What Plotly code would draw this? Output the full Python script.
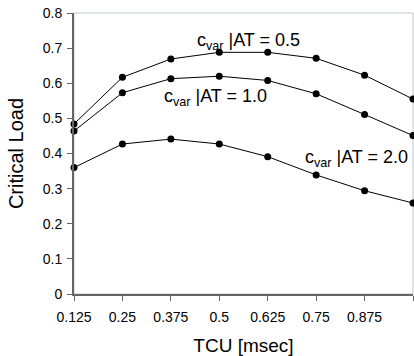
import plotly.graph_objects as go

tcu = [0.125, 0.25, 0.375, 0.5, 0.625, 0.75, 0.875, 1]
tick_labels = ["0.125", "0.25", "0.375", "0.5", "0.625", "0.75", "0.875", "1"]
load_ticks = [0, 0.1, 0.2, 0.3, 0.4, 0.5, 0.6, 0.7, 0.8]
load_tick_labels = ["0", "0.1", "0.2", "0.3", "0.4", "0.5", "0.6", "0.7", "0.8"]
load_cvar_05 = [0.484, 0.617, 0.669, 0.688, 0.688, 0.671, 0.623, 0.555]
load_cvar_10 = [0.464, 0.573, 0.613, 0.620, 0.608, 0.570, 0.511, 0.451]
load_cvar_20 = [0.360, 0.427, 0.441, 0.427, 0.391, 0.339, 0.294, 0.259]

font = "Liberation Sans, Arial, sans-serif"

fig = go.Figure()
for ys in (load_cvar_05, load_cvar_10, load_cvar_20):
    fig.add_trace(go.Scatter(
        x=tcu, y=ys, mode="lines+markers",
        line=dict(color="black", width=1),
        marker=dict(color="black", size=7),
        cliponaxis=False, showlegend=False,
    ))

labels = [
    (0.575, 0.718, "center", "c<sub>var</sub> |AT = 0.5"),
    (0.49, 0.560, "center", "c<sub>var</sub> |AT = 1.0"),
    (0.993, 0.385, "right", "c<sub>var</sub> |AT = 2.0"),
]
for x, y, anchor, t in labels:
    fig.add_annotation(x=x, y=y, text=t, showarrow=False, xanchor=anchor,
                       font=dict(family=font, size=18, color="black"))

fig.update_layout(
    width=414, height=356,
    margin=dict(l=74, r=1, t=13, b=62),
    paper_bgcolor="white", plot_bgcolor="white",
    font=dict(family=font, color="black"),
    shapes=[dict(type="rect", xref="paper", yref="paper", x0=0, y0=0, x1=1, y1=1,
                 line=dict(color="#c0c8c8", width=1), layer="below")],
)
fig.update_xaxes(
    range=[0.125, 1], tickvals=tcu, ticktext=tick_labels,
    showgrid=False, zeroline=False, automargin=False,
    showline=True, linecolor="#666666", linewidth=2,
    ticks="outside", ticklen=5, tickcolor="#666666", ticklabelstandoff=4,
    tickfont=dict(size=14, family=font),
    title=dict(text="TCU [msec]", font=dict(size=19, family=font), standoff=18),
)
fig.update_yaxes(
    range=[0, 0.8], tickvals=load_ticks, ticktext=load_tick_labels,
    showgrid=False, zeroline=False, automargin=False,
    showline=True, linecolor="#666666", linewidth=2,
    ticks="outside", ticklen=5, tickcolor="#666666", ticklabelstandoff=2,
    tickfont=dict(size=14, family=font),
    title=dict(text="Critical Load", font=dict(size=20, family=font), standoff=14),
)

fig.write_html("out.html")
